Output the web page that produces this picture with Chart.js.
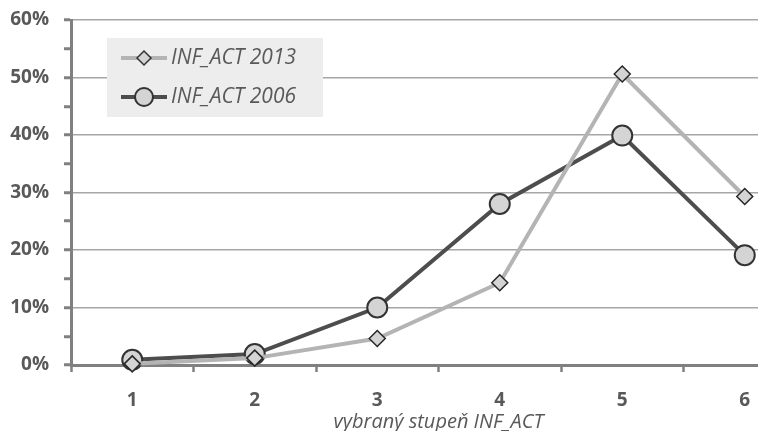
<!DOCTYPE html>
<html>
<head>
<meta charset="utf-8">
<script src="https://cdn.jsdelivr.net/npm/chart.js@4/dist/chart.umd.min.js"></script>
<style>
    html, body { margin: 0; padding: 0; background: #fff; overflow: hidden; }
    #wrap { position: relative; width: 830px; height: 431px; }
</style>
</head>
<body>
<div id="wrap"><canvas id="chart"></canvas></div>
<script>
    const stupne = ['1', '2', '3', '4', '5', '6']
    const inf2013 = [0.2, 1.2, 4.6, 14.3, 50.6, 29.3]
    const inf2006 = [0.9, 1.9, 10.0, 28.0, 39.9, 19.1]
    const seriesNames = ['INF_ACT 2013', 'INF_ACT 2006']
    const axisTitle = 'vybraný stupeň INF_ACT'

    Chart.defaults.font.family = '"Open Sans", "Noto Sans", sans-serif'
    Chart.defaults.color = '#595959'

    // legend box drawn inside the plot, like the original
    const insideLegend = {
        id: 'insideLegend',
        afterDraw(chart) {
            const ctx = chart.ctx
            ctx.save()
            ctx.fillStyle = '#ededed'
            ctx.fillRect(107, 38, 216, 79)

            const rows = [
                { y: 58, line: '#b4b4b4', style: 'rectRot', r: 7, border: '#333', bw: 1.5 },
                { y: 97, line: '#4d4d4d', style: 'circle', r: 9, border: '#333', bw: 2 }
            ]
            rows.forEach((row, i) => {
                ctx.strokeStyle = row.line
                ctx.lineWidth = 4
                ctx.beginPath()
                ctx.moveTo(121, row.y)
                ctx.lineTo(167, row.y)
                ctx.stroke()
                ctx.fillStyle = '#d4d4d4'
                ctx.strokeStyle = row.border
                ctx.lineWidth = row.bw
                Chart.helpers.drawPoint(ctx, { pointStyle: row.style, radius: row.r, borderWidth: row.bw }, 144, row.y)
                ctx.fillStyle = '#595959'
                ctx.font = 'italic 21px "Open Sans", "Noto Sans", sans-serif'
                ctx.textBaseline = 'middle'
                ctx.fillText(seriesNames[i], 171, row.y)
            })
            ctx.restore()
        }
    }

    const data = {
        labels: stupne,
        datasets: [
            {
                label: seriesNames[0],
                data: inf2013,
                borderColor: '#b4b4b4',
                borderWidth: 4,
                pointStyle: 'rectRot',
                pointRadius: 8,
                pointBackgroundColor: '#d4d4d4',
                pointBorderColor: '#262626',
                pointBorderWidth: 1.5,
                tension: 0,
                clip: false
            },
            {
                label: seriesNames[1],
                data: inf2006,
                borderColor: '#4d4d4d',
                borderWidth: 4,
                pointStyle: 'circle',
                pointRadius: 10,
                pointBackgroundColor: '#d4d4d4',
                pointBorderColor: '#333333',
                pointBorderWidth: 2,
                tension: 0,
                clip: false
            }
        ]
    }

    const options = {
        responsive: true,
        maintainAspectRatio: false,
        animation: false,
        layout: { padding: { top: 20, right: 24, left: 0, bottom: 0 } },
        plugins: {
            legend: { display: false },
            tooltip: { enabled: false }
        },
        scales: {
            x: {
                offset: true,
                afterFit: scale => { scale.height = 66 },
                border: { color: '#808080', width: 3 },
                grid: {
                    offset: true,
                    drawOnChartArea: false,
                    drawTicks: true,
                    tickLength: 7,
                    tickColor: '#808080',
                    tickWidth: 2.5
                },
                ticks: {
                    padding: 17,
                    color: '#595959',
                    font: { size: 19, weight: 'bold' }
                },
                title: {
                    display: true,
                    text: axisTitle,
                    color: '#595959',
                    padding: { top: 0, bottom: -3 },
                    font: { size: 20, style: 'italic' }
                }
            },
            y: {
                min: 0,
                max: 60,
                afterFit: scale => {
                    scale.width = 71
                    scale.paddingTop = 0
                    scale.paddingBottom = 0
                },
                border: { color: '#808080', width: 3 },
                grid: {
                    color: c => (c.tick && c.tick.value % 10 === 0) ? '#a6a6a6' : 'rgba(0,0,0,0)',
                    lineWidth: 1.5,
                    tickColor: '#808080',
                    tickWidth: 3,
                    tickLength: 7
                },
                ticks: {
                    stepSize: 5,
                    autoSkip: false,
                    padding: 15,
                    color: '#595959',
                    font: { size: 19, weight: 'bold' },
                    callback: v => v % 10 === 0 ? v + '%' : ''
                }
            }
        }
    }

    new Chart('chart', { type: 'line', data, options, plugins: [insideLegend] })
</script>
</body>
</html>
